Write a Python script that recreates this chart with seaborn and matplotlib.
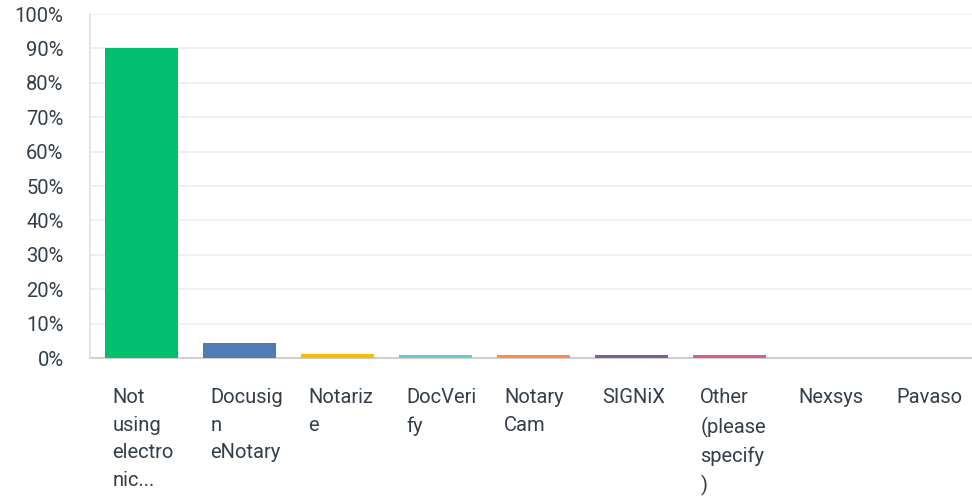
import matplotlib
matplotlib.use("Agg")
import matplotlib.pyplot as plt
import matplotlib.transforms as mtransforms
import seaborn as sns
import pandas as pd

# Chart data
categories = ["Not using electronic", "Docusign eNotary", "Notarize", "DocVerify",
              "Notary Cam", "SIGNiX", "Other (please specify)", "Nexsys", "Pavaso"]
labels = ["Not\nusing\nelectro\nnic...", "Docusig\nn\neNotary", "Notariz\ne", "DocVeri\nfy",
          "Notary\nCam", "SIGNiX", "Other\n(please\nspecify\n)", "Nexsys", "Pavaso"]
values = [90.0, 4.4, 1.2, 0.9, 0.9, 0.9, 0.9, 0.0, 0.0]
colors = ["#00BF6F", "#507CB6", "#F9BE00", "#6BC8CD", "#FF8B4F",
          "#7D5E90", "#D25F90", "#A0A0A0", "#A0A0A0"]

sns.set_style("white")
plt.rcParams["font.family"] = ["Roboto", "DejaVu Sans"]

df = pd.DataFrame({"category": categories, "value": values})

fig = plt.figure(figsize=(9.72, 4.96), dpi=100)
ax = fig.add_axes([90 / 972, 1 - 358 / 496, 882 / 972, 344 / 496])

bar_w = 0.745
sns.barplot(data=df, x="category", y="value", hue="category", palette=colors,
            legend=False, width=bar_w, ax=ax, saturation=1, zorder=3,
            linewidth=0, edgecolor="none")

ax.set_ylim(0, 100)
ax.set_xlim(-0.53, len(categories) - 0.53)
ax.set_yticks(range(0, 101, 10))
ax.set_yticklabels([f"{v}%" for v in range(0, 101, 10)], fontsize=14.5, color="#333E48")
ax.yaxis.grid(True, color="#EDEDED", linewidth=1.2)
ax.set_axisbelow(True)
ax.tick_params(axis="y", length=0, pad=19)
ax.set_xticks([])
ax.set_xlabel("")
ax.set_ylabel("")

for s in ["top", "right"]:
    ax.spines[s].set_visible(False)
ax.spines["left"].set_color("#E0E0E0")
ax.spines["left"].set_linewidth(1.2)
ax.spines["bottom"].set_color("#D0D0D0")
ax.spines["bottom"].set_linewidth(1.5)
ax.spines["bottom"].set_zorder(2)

# category labels, left-aligned under each bar
trans = mtransforms.blended_transform_factory(ax.transData, ax.transAxes)
for i, lab in enumerate(labels):
    ax.text(i - bar_w / 2 + 0.07, -0.088, lab, transform=trans, ha="left", va="top",
            fontsize=14.5, color="#333E48", linespacing=1.57)

fig.savefig("out.png", dpi=100)
